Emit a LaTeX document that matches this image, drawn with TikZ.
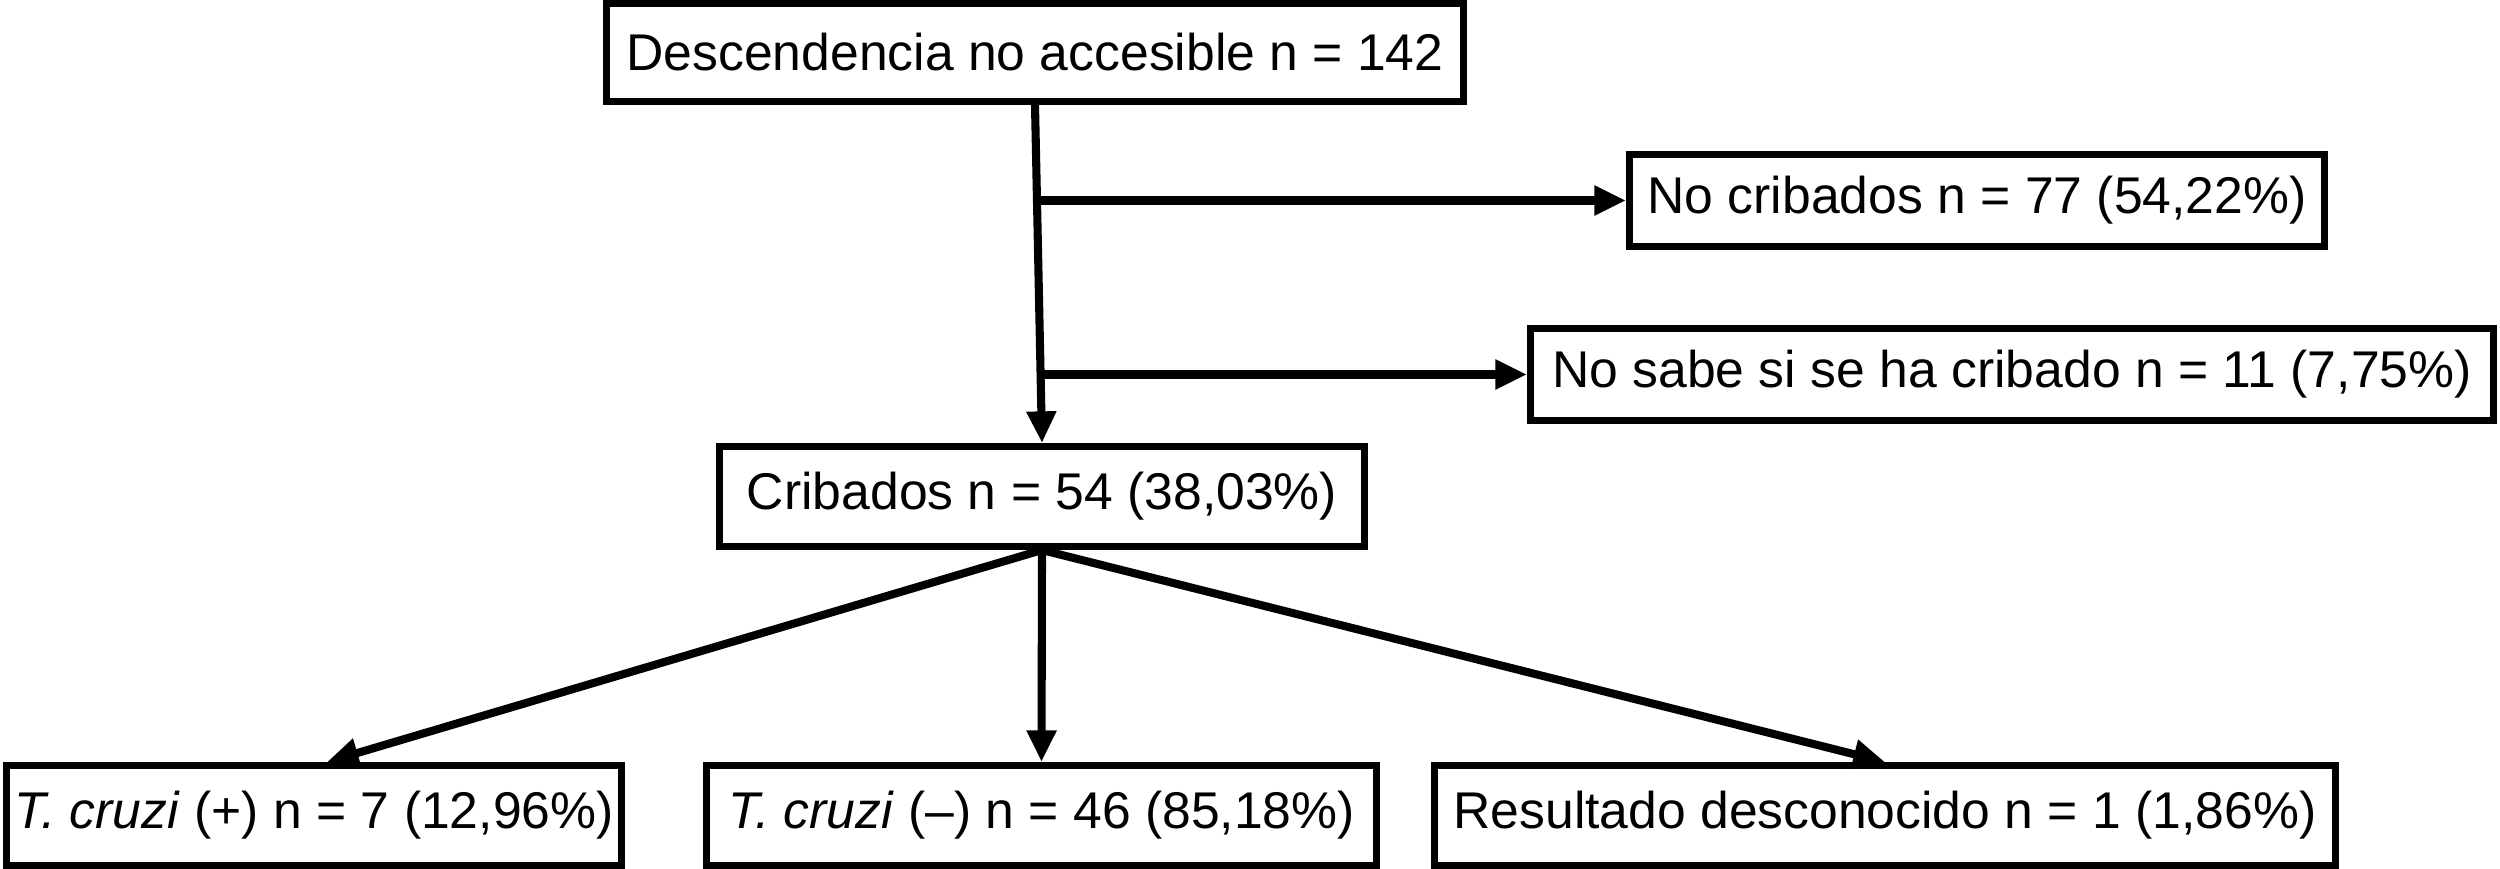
\documentclass[tikz,border=0pt]{standalone}
\usepackage{fontspec}
\setmainfont{Liberation Sans}
\usetikzlibrary{arrows.meta,calc}

\begin{document}
\begin{tikzpicture}[
    box/.style={draw, line width=2pt, inner sep=0pt, minimum height=0.98cm,
      font=\fontsize{14.7}{17}\selectfont},
    link/.style={line width=2.3pt, -{Triangle[length=9pt,width=8pt]}}]
    \useasboundingbox (0,0) rectangle (25,-8.69);
    % screening question
    \node[box, minimum width=8.57cm] (desc) at (10.35,-0.525)
      {Descendencia no accesible n = 142};
    \node[box, minimum width=6.95cm, minimum height=0.92cm] (nocrib) at (19.77,-2.005)
      {No cribados n = 77 (54,22\%)};
    \node[box, minimum width=9.63cm, minimum height=0.92cm] (nosabe) at (20.12,-3.745)
      {No sabe si se ha cribado n = 11 (7,75\%)};
    \node[box, minimum width=6.45cm, minimum height=1.0cm] (crib) at (10.42,-4.965)
      {Cribados n = 54 (38,03\%)};
    % test results
    \node[box, minimum width=6.15cm, minimum height=1.0cm] (pos) at (3.14,-8.155)
      {\textit{T. cruzi} (+) n = 7 (12,96\%)};
    \node[box, minimum width=6.70cm, minimum height=1.0cm] (neg) at (10.415,-8.155)
      {\textit{T. cruzi} (--) n = 46 (85,18\%)};
    \node[box, minimum width=9.01cm, minimum height=1.0cm] (unk) at (18.85,-8.155)
      {Resultado desconocido n = 1 (1,86\%)};
    % connectors
    \draw[link] (desc.south) -- (crib.north);
    \draw[link] (nocrib.west -| desc.south) -- (nocrib.west);
    \draw[link] (nosabe.west -| crib.north) -- (nosabe.west);
    \draw[link] (crib.south) -- ($(pos.north)+(0.13,0)$);
    \draw[link] (crib.south) -- (neg.north);
    \draw[link] (crib.south) -- (unk.north);
\end{tikzpicture}
\end{document}
